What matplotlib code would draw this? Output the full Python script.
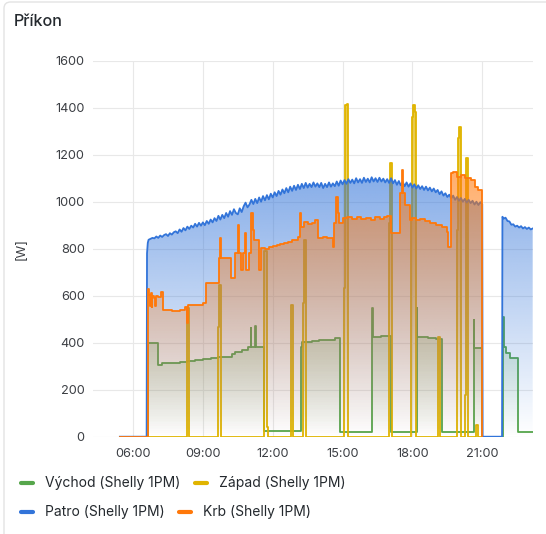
import numpy as np
import matplotlib.pyplot as plt
from matplotlib.colors import to_rgb
from matplotlib.path import Path
from matplotlib.lines import Line2D
from matplotlib.patches import FancyBboxPatch

plt.rcParams['font.family'] = ['Inter', 'DejaVu Sans']

# --- data (time "HH:MM", power in W) ---
vychod_t = ["06:36", "06:38", "07:04", "07:15", "07:40", "08:00", "08:20", "08:40", "09:00",
            "09:20", "09:40", "10:00", "10:15", "10:22", "10:40", "10:55", "11:03", "11:05",
            "11:14", "11:18", "11:38", "13:12", "13:15", "13:40", "14:00", "14:20", "14:40",
            "14:53", "16:17", "16:19", "16:40", "17:06", "18:11", "18:13", "18:40", "19:00",
            "19:17", "20:38", "20:40", "21:00", "21:54", "21:56", "22:02", "22:12", "22:32", "23:10"]
vychod_v = [0, 397, 305, 312, 315, 318, 322, 326, 330,
            334, 338, 340, 350, 362, 369, 383, 463, 383,
            470, 383, 24, 383, 404, 408, 412, 410, 419,
            21, 546, 426, 428, 21, 546, 426, 420, 414,
            21, 497, 376, 0, 511, 383, 355, 334, 21, 21]

zapad_t = ["06:36", "08:20", "08:25", "09:39", "09:41", "09:46", "11:38", "11:44", "11:48",
           "12:47", "12:51", "13:18", "13:20", "13:25", "15:03", "15:05", "15:11", "15:14",
           "16:59", "17:00", "17:02", "17:07", "17:57", "17:59", "18:02", "18:06", "18:09",
           "19:06", "19:11", "19:54", "19:56", "19:58", "20:00", "20:05", "20:15", "20:17",
           "20:23", "20:45", "20:48", "21:00"]
zapad_v = [0, 546, 0, 468, 646, 0, 790, 43, 0,
           560, 0, 568, 837, 0, 632, 1411, 1415, 0,
           43, 908, 1163, 0, 930, 1362, 1411, 1380, 0,
           426, 0, 568, 880, 1270, 1319, 0, 177, 1185,
           0, 50, 0, 0]

patro_t = ["05:26", "06:35", "06:36", "06:38", "06:40", "06:45", "06:50", "06:55", "07:00",
           "07:05", "07:10", "07:15", "07:20", "07:25", "07:30", "07:35", "07:40", "07:45",
           "07:50", "07:55", "08:00", "08:05", "08:10", "08:15", "08:20", "08:25", "08:30",
           "08:35", "08:40", "08:45", "08:50", "08:55", "09:00", "09:05", "09:10", "09:15",
           "09:20", "09:25", "09:30", "09:35", "09:40", "09:45", "09:50", "09:55", "10:00",
           "10:05", "10:10", "10:15", "10:20", "10:25", "10:30", "10:35", "10:40", "10:45",
           "10:50", "10:55", "11:00", "11:05", "11:10", "11:15", "11:20", "11:25", "11:30",
           "11:35", "11:40", "11:45", "11:50", "11:55", "12:00", "12:05", "12:10", "12:15",
           "12:20", "12:25", "12:30", "12:35", "12:40", "12:45", "12:50", "12:55", "13:00",
           "13:05", "13:10", "13:15", "13:20", "13:25", "13:30", "13:35", "13:40", "13:45",
           "13:50", "13:55", "14:00", "14:05", "14:10", "14:15", "14:20", "14:25", "14:30",
           "14:35", "14:40", "14:45", "14:50", "14:55", "15:00", "15:05", "15:10", "15:15",
           "15:20", "15:25", "15:30", "15:35", "15:40", "15:45", "15:50", "15:55", "16:00",
           "16:05", "16:10", "16:15", "16:20", "16:25", "16:30", "16:35", "16:40", "16:45",
           "16:50", "16:55", "17:00", "17:05", "17:10", "17:15", "17:20", "17:25", "17:30",
           "17:35", "17:40", "17:45", "17:50", "17:55", "18:00", "18:05", "18:10", "18:15",
           "18:20", "18:25", "18:30", "18:35", "18:40", "18:45", "18:50", "18:55", "19:00",
           "19:05", "19:10", "19:15", "19:20", "19:25", "19:30", "19:35", "19:40", "19:45",
           "19:50", "19:55", "20:00", "20:05", "20:10", "20:15", "20:20", "20:25", "20:30",
           "20:35", "20:40", "20:45", "20:50", "20:55", "21:00", "21:01", "21:51", "21:52",
           "21:55", "22:00", "22:05", "22:10", "22:15", "22:20", "22:25", "22:30", "22:35",
           "22:40", "22:45", "22:50", "22:55", "23:00", "23:05", "23:10"]
patro_v = [0, 0, 780, 825, 838, 842, 846, 844, 852,
           846, 856, 850, 858, 862, 854, 866, 860, 870,
           874, 866, 882, 872, 888, 878, 894, 884, 898,
           890, 906, 894, 910, 898, 912, 900, 918, 906,
           924, 912, 930, 918, 940, 924, 944, 930, 952,
           936, 960, 944, 968, 952, 946, 972, 956, 980,
           996, 976, 988, 1008, 990, 1012, 994, 1018, 1000,
           1024, 1006, 1028, 1010, 1034, 1018, 1040, 1024, 1046,
           1030, 1052, 1036, 1058, 1040, 1064, 1046, 1068, 1050,
           1072, 1054, 1076, 1058, 1080, 1060, 1076, 1062, 1082,
           1064, 1078, 1062, 1080, 1058, 1076, 1062, 1082, 1064,
           1078, 1066, 1086, 1068, 1090, 1074, 1092, 1076, 1096,
           1080, 1094, 1078, 1100, 1082, 1096, 1080, 1102, 1084,
           1098, 1082, 1104, 1086, 1100, 1084, 1102, 1086, 1098,
           1082, 1096, 1080, 1100, 1078, 1092, 1072, 1088, 1070,
           1084, 1066, 1082, 1064, 1078, 1060, 1074, 1056, 1070,
           1054, 1066, 1050, 1064, 1048, 1060, 1044, 1056, 1040,
           1050, 1032, 1044, 1026, 1036, 1020, 1030, 1014, 1026,
           1008, 1020, 1004, 1016, 1000, 1012, 996, 1008, 994,
           1004, 988, 1000, 986, 998, 990, 0, 0, 936,
           928, 932, 918, 916, 902, 904, 894, 898, 890,
           896, 886, 892, 884, 890, 882, 886]

krb_t = ["05:26", "06:38", "06:41", "06:43", "06:45", "06:48", "06:50", "06:54", "06:56",
         "06:58", "07:05", "07:12", "07:17", "07:40", "08:00", "08:15", "08:19", "08:22",
         "08:45", "09:00", "09:09", "09:42", "09:44", "09:46", "10:13", "10:22", "10:31",
         "10:34", "10:39", "10:43", "10:48", "10:51", "10:58", "11:05", "11:08", "11:12",
         "11:24", "11:31", "11:40", "11:50", "12:00", "12:10", "12:20", "12:30", "12:40",
         "12:50", "13:05", "13:10", "13:14", "13:20", "13:30", "13:40", "13:50", "13:57",
         "14:10", "14:20", "14:35", "14:39", "14:44", "14:48", "14:51", "15:02", "15:12",
         "15:24", "15:36", "15:48", "16:00", "16:12", "16:24", "16:36", "16:48", "16:55",
         "17:06", "17:28", "17:32", "17:36", "17:40", "17:53", "18:00", "18:10", "18:20",
         "18:32", "18:45", "19:00", "19:15", "19:28", "19:32", "19:39", "19:45", "19:54",
         "20:05", "20:15", "20:32", "20:41", "20:50", "21:00"]
krb_v = [0, 630, 605, 555, 610, 553, 598, 592, 556,
         598, 596, 617, 540, 536, 540, 553, 482, 560,
         562, 567, 653, 759, 844, 759, 674, 780, 901,
         780, 709, 780, 866, 709, 780, 951, 880, 837,
         709, 802, 798, 806, 812, 815, 822, 825, 830,
         838, 848, 951, 894, 915, 905, 910, 922, 844,
         850, 846, 809, 908, 1021, 950, 908, 929, 935,
         926, 934, 928, 932, 924, 934, 928, 936, 940,
         865, 1036, 1135, 1036, 986, 922, 929, 924, 928,
         918, 910, 901, 894, 872, 809, 1121, 1128, 1106,
         1112, 1099, 1092, 1064, 1050, 0]

names = ["Východ (Shelly 1PM)", "Západ (Shelly 1PM)", "Patro (Shelly 1PM)", "Krb (Shelly 1PM)"]
colors = ["#56A64B", "#E0B400", "#3274D9", "#FF780A"]

XMIN, XMAX = 4.28, 23.18
YMAX = 1600


def hours(ts):
    return np.array([int(s[:2]) + int(s[3:]) / 60 for s in ts])


def draw_series(ax, ts, vals, color, z, stepped=True, opacity=0.85):
    x = hours(ts)
    y = np.array(vals, dtype=float)
    if stepped:
        poly = ax.fill_between(x, 0, y, step='post', color='none', lw=0)
    else:
        poly = ax.fill_between(x, 0, y, color='none', lw=0)
    clip = Path.make_compound_path(*poly.get_paths())
    poly.remove()
    img = np.zeros((256, 2, 4))
    img[..., :3] = to_rgb(color)
    img[..., 3] = np.linspace(opacity, 0, 256)[:, None]
    im = ax.imshow(img, extent=[XMIN, XMAX, 0, YMAX], origin='upper', aspect='auto',
                   interpolation='bilinear', zorder=z)
    im.set_clip_path(clip, ax.transData)
    ax.plot(x, y, drawstyle='steps-post' if stepped else 'default',
            color=color, lw=1.3, zorder=z + 0.5)


fig = plt.figure(figsize=(5.46, 5.34), dpi=100)
fig.patch.set_facecolor('white')

panel = FancyBboxPatch((4 / 546, -0.05), 1.1, 1.05 - 2 / 534,
                       boxstyle="round,pad=0,rounding_size=0.012",
                       transform=fig.transFigure, facecolor='white',
                       edgecolor='#e3e3e3', lw=1.0, zorder=0)
fig.add_artist(panel)

ax = fig.add_axes([93 / 546, 1 - 436.7 / 534, (533 - 93) / 546, (436.7 - 60.7) / 534])
ax.set_facecolor('none')

draw_series(ax, vychod_t, vychod_v, colors[0], z=2)
draw_series(ax, zapad_t, zapad_v, colors[1], z=3)
draw_series(ax, patro_t, patro_v, colors[2], z=4, stepped=False)
draw_series(ax, krb_t, krb_v, colors[3], z=5)

ax.set_xlim(XMIN, XMAX)
ax.set_ylim(0, YMAX)
ax.set_xticks([6, 9, 12, 15, 18, 21])
ax.set_xticklabels(["06:00", "09:00", "12:00", "15:00", "18:00", "21:00"])
ax.set_yticks(range(0, 1601, 200))
ax.grid(True, color='#e8e8e8', lw=0.8, zorder=1)
ax.set_axisbelow(True)
for s in ax.spines.values():
    s.set_visible(False)
ax.tick_params(length=0, labelsize=9.2, colors='#3c3f44')
ax.tick_params(axis='x', pad=8)
ax.tick_params(axis='y', pad=6)

fig.text(14 / 546, 1 - 21 / 534, "Příkon", fontsize=11.6, fontweight=500,
         color='#24292e', va='center', ha='left')
fig.text(22 / 546, 1 - 248.7 / 534, "[W]", fontsize=9.2, color='#3c3f44',
         rotation=90, va='center', ha='center')

# legend drawn like the Grafana list legend
legend_pos = [(21, 483.3), (195, 483.3), (21, 511.7), (179, 511.7)]
for (lx, ly), name, c in zip(legend_pos, names, colors):
    fy = 1 - ly / 534
    fig.add_artist(Line2D([lx / 546, (lx + 12) / 546], [fy, fy], color=c, lw=3,
                          solid_capstyle='round', transform=fig.transFigure))
    fig.text((lx + 24) / 546, fy, name, fontsize=10, color='#24292e',
             va='center', ha='left')

fig.savefig("out.png", dpi=100, facecolor='white')
